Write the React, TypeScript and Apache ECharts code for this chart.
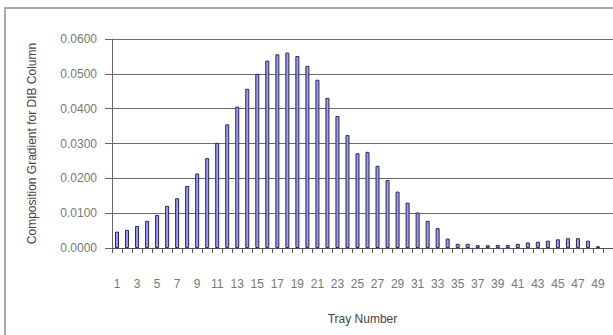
import React, { useEffect, useRef } from "react";
import * as echarts from "echarts";

const trays: string[] = Array.from({ length: 50 }, (_, i) => String(i + 1));
const gradient: (number | null)[] = [
  0.0047, 0.0052, 0.0063, 0.0078, 0.0095, 0.0121, 0.0143, 0.0178, 0.0214, 0.0258,
  0.0302, 0.0355, 0.0406, 0.0457, 0.05, 0.0538, 0.0556, 0.0561, 0.0551, 0.0523,
  0.0483, 0.0431, 0.0379, 0.0324, 0.0272, 0.0276, 0.0236, 0.0195, 0.0162, 0.013,
  0.0102, 0.0078, 0.0057, 0.0027, 0.0012, 0.0012, 0.0008, 0.0008, 0.0009, 0.0009,
  0.0012, 0.0016, 0.0018, 0.0021, 0.0025, 0.0028, 0.0028, 0.0021, 0.0005, null,
];
const yTicks = { min: 0, max: 0.06, interval: 0.01 };
const xTitle = "Tray Number";
const yTitle = "Composition Gradient for DIB Column";

export default function App() {
  const ref = useRef<HTMLDivElement>(null);
  useEffect(() => {
    if (!ref.current) return;
    const chart = echarts.init(ref.current, null, { renderer: "svg" });
    const font = "'Liberation Sans', Arial, sans-serif";
    chart.setOption({
      animation: false,
      backgroundColor: "#ffffff",
      textStyle: { fontFamily: font },
      graphic: [
        {
          type: "rect",
          shape: { x: 5, y: 8, width: 640, height: 360 },
          style: { fill: "none", stroke: "#a8a8a8", lineWidth: 2 },
          z: -1,
        },
      ],
      grid: { left: 112, top: 39, bottom: 87, right: -3, containLabel: false },
      xAxis: {
        type: "category",
        data: trays,
        name: xTitle,
        nameLocation: "middle",
        nameGap: 65,
        nameTextStyle: { fontSize: 12, color: "#444", fontFamily: font },
        axisLine: { lineStyle: { color: "#555", width: 1 } },
        axisTick: { show: true, interval: 0, length: 5, lineStyle: { color: "#555" } },
        axisLabel: { interval: 1, margin: 30, fontSize: 12, color: "#777", fontFamily: font },
        splitLine: { show: false },
      },
      yAxis: {
        type: "value",
        min: yTicks.min,
        max: yTicks.max,
        interval: yTicks.interval,
        name: yTitle,
        nameLocation: "middle",
        nameRotate: 90,
        nameGap: 74,
        nameTextStyle: { fontSize: 12, color: "#444", fontFamily: font },
        axisLine: { show: true, lineStyle: { color: "#666", width: 1 } },
        axisTick: { show: true, inside: false, length: 7, lineStyle: { color: "#666" } },
        axisLabel: {
          margin: 15,
          fontSize: 12,
          color: "#777",
          fontFamily: font,
          formatter: (v: number) => v.toFixed(4),
        },
        splitLine: { show: true, lineStyle: { color: "#6a6a6a", width: 1 } },
      },
      series: [
        {
          type: "bar",
          data: gradient,
          barWidth: 4,
          itemStyle: { color: "#9999ff", borderColor: "#2a2a44", borderWidth: 1 },
        },
      ],
    });
    return () => chart.dispose();
  }, []);
  return (
    <div
      ref={ref}
      style={{ position: "fixed", left: 0, top: 0, width: 613, height: 335 }}
    />
  );
}
